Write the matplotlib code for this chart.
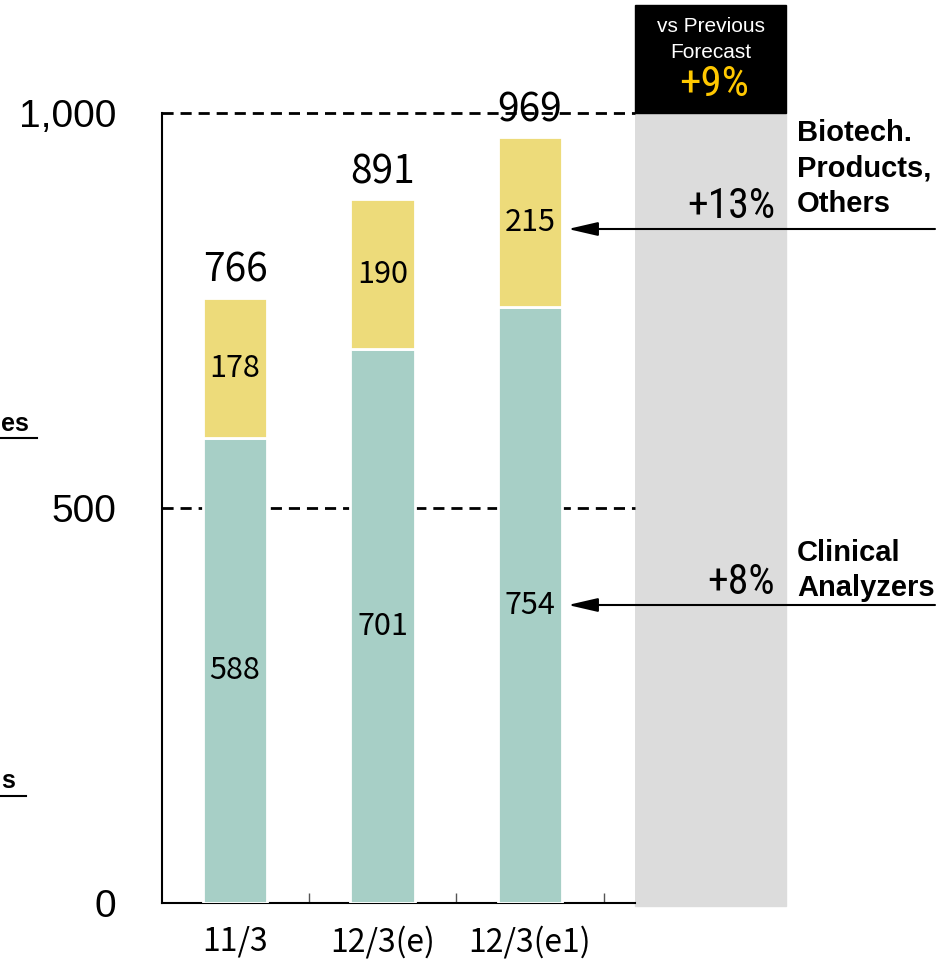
import matplotlib.pyplot as plt
from matplotlib import font_manager
from matplotlib.patches import Rectangle, FancyArrowPatch
from matplotlib.lines import Line2D

# -----------------------------
# Data (100 million yen)
# -----------------------------
periods = ["11/3", "12/3(e)", "12/3(e1)"]
clinical = [588, 701, 754]
biotech = [178, 190, 215]
totals = [766, 891, 969]
growth_clinical = "+8%"
growth_biotech = "+13%"
growth_total = "+9%"

TEAL = "#A7CFC6"
YELLOW = "#EDDB7A"
BAND = "#DCDCDC"
GOLD = "#FFC800"

# pick a narrow face for the percentage figures if one is around
fonts = font_manager.fontManager.ttflist
names = {f.name for f in fonts}
NARROW, NARROW_STRETCH = "DejaVu Sans", "normal"
for cand in ("Liberation Sans Narrow", "Roboto Condensed", "Open Sans Condensed"):
    if cand in names:
        NARROW = cand
        break
else:
    if any(f.name == "DejaVu Sans" and f.stretch == "condensed" for f in fonts):
        NARROW_STRETCH = "condensed"

SANS = "Liberation Sans"
JP = ["Noto Sans CJK JP", "DejaVu Sans"]

W, H = 949, 959
fig = plt.figure(figsize=(W / 100, H / 100), dpi=100)


def fx(px):
    return px / W


def fy(py):
    return 1 - py / H


# axes from x=162..635 px, y=113..903 px
ax = fig.add_axes([fx(162), fy(903), fx(635) - fx(162), fy(113) - fy(903)])

x = range(len(periods))
ax.bar(x, clinical, width=0.434, color=TEAL, edgecolor="white", linewidth=2, zorder=3)
ax.bar(x, biotech, width=0.434, bottom=clinical, color=YELLOW, edgecolor="white",
       linewidth=2, zorder=3)

for i in x:
    ax.text(i, clinical[i] / 2, str(clinical[i]), ha="center", va="center",
            fontsize=22, family=JP, zorder=4)
    ax.text(i, clinical[i] + biotech[i] / 2, str(biotech[i]), ha="center", va="center",
            fontsize=22, family=JP, zorder=4)
    ax.text(i, totals[i] + 9, f"{totals[i]:,}", ha="center", va="bottom",
            fontsize=28, family=JP, zorder=4)

# dashed guide lines
for v in (500, 1000):
    ax.axhline(v, color="black", linestyle=(0, (4, 2.5)), linewidth=2, zorder=1,
               clip_on=False)

ax.set_xlim(-0.495, 2.712)
ax.set_ylim(0, 1000)
ax.set_yticks([0, 500, 1000])
ax.set_yticklabels(["0", "500", "1,000"], family=SANS, fontsize=28)
ax.tick_params(axis="y", length=0, pad=33)
ax.set_xticks(list(x))
ax.set_xticklabels(periods, family=JP, fontsize=23)
ax.tick_params(axis="x", length=0, pad=16)
ax.set_xticks([0.5, 1.5, 2.5], minor=True)
ax.tick_params(axis="x", which="minor", direction="in", length=7, width=1, color="#555555")

for s in ("top", "right"):
    ax.spines[s].set_visible(False)
ax.spines["left"].set_linewidth(1.5)
ax.spines["bottom"].set_linewidth(1.5)

# comparison band and header box
fig.add_artist(Rectangle((fx(635), fy(906)), fx(786) - fx(635), fy(113) - fy(906),
                         transform=fig.transFigure, color=BAND, zorder=0))
fig.add_artist(Rectangle((fx(635), fy(113)), fx(786) - fx(635), fy(5) - fy(113),
                         transform=fig.transFigure, color="black", zorder=1))
fig.text(fx(711), fy(26), "vs Previous", color="white", ha="center", va="center",
         family=SANS, fontsize=15)
fig.text(fx(711), fy(52), "Forecast", color="white", ha="center", va="center",
         family=SANS, fontsize=15)
fig.text(fx(714), fy(84), growth_total, color=GOLD, ha="center", va="center",
         family=NARROW, stretch=NARROW_STRETCH, fontsize=31)

# growth rates and segment names
fig.text(fx(775), fy(207), growth_biotech, ha="right", va="center", family=NARROW,
         stretch=NARROW_STRETCH, fontsize=30)
fig.text(fx(775), fy(583), growth_clinical, ha="right", va="center", family=NARROW,
         stretch=NARROW_STRETCH, fontsize=30)
fig.text(fx(797), fy(119), "Biotech.\nProducts,\nOthers", ha="left", va="top",
         family=SANS, fontweight="bold", fontsize=21, linespacing=1.33)
fig.text(fx(797), fy(539), "Clinical\nAnalyzers", ha="left", va="top",
         family=SANS, fontweight="bold", fontsize=21, linespacing=1.33)

for yy in (229, 605):
    fig.add_artist(FancyArrowPatch((fx(935), fy(yy)), (fx(568), fy(yy)),
                                   transform=fig.transFigure,
                                   arrowstyle="-|>,head_length=1.3,head_width=0.3",
                                   mutation_scale=14, color="black", linewidth=1.5,
                                   shrinkA=0, shrinkB=0, zorder=5))

# segment names running in from the left edge
fig.text(fx(1), fy(424), "es", ha="left", va="center", family=SANS,
         fontweight="bold", fontsize=18)
fig.add_artist(Line2D([0, fx(37)], [fy(438), fy(438)], transform=fig.transFigure,
                      color="black", linewidth=1.5))
fig.text(fx(1), fy(781), "s", ha="left", va="center", family=SANS,
         fontweight="bold", fontsize=18)
fig.add_artist(Line2D([0, fx(26)], [fy(796), fy(796)], transform=fig.transFigure,
                      color="black", linewidth=1.5))

fig.savefig("out.png", dpi=100)
